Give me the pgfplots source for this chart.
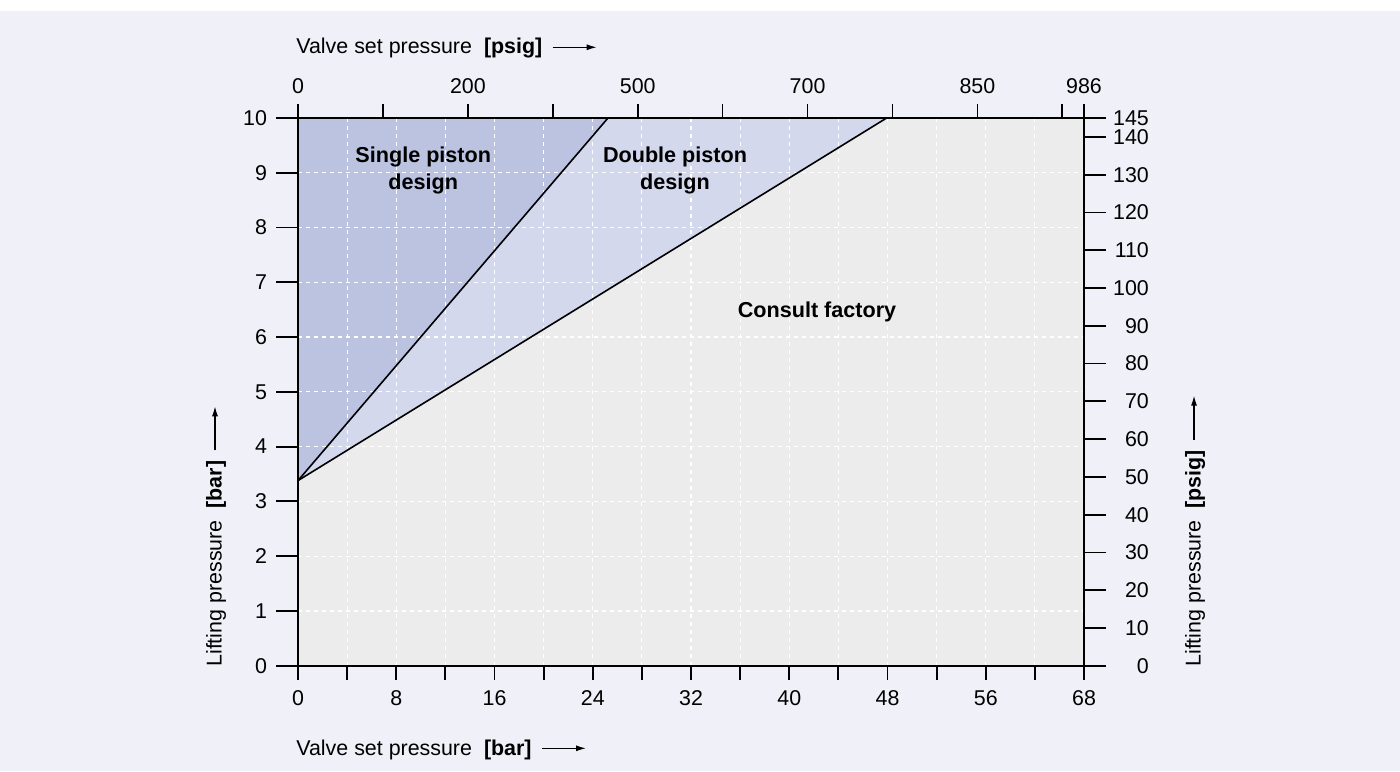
\documentclass[border=0pt]{standalone}
\usepackage{pgfplots}
\pgfplotsset{compat=1.18}
\usepackage{fontspec}
\setmainfont{Liberation Sans}
\usetikzlibrary{arrows.meta}
\definecolor{bg}{RGB}{239,240,248}
\definecolor{plotgray}{RGB}{235,236,235}
\definecolor{single}{RGB}{188,195,224}
\definecolor{double}{RGB}{211,216,236}
\newcommand{\lblfont}{\fontsize{10.7}{12.8}\selectfont}
\begin{document}
\begin{tikzpicture}[x=0.5pt,y=0.5pt]
\useasboundingbox (0,0) rectangle (1400,771);
\fill[white] (0,0) rectangle (1400,771);
\fill[bg] (0,0) rectangle (1400,760);
\pgfplotsset{
  base/.style={
    at={(149pt,52.65pt)}, anchor=south west,
    scale only axis, width=393pt, height=273.85pt,
    xmin=0, xmax=64, ymin=0, ymax=10,
    tick align=outside,
    tick label style={font=\lblfont},
    /pgf/number format/assume math mode=true,
    every tick/.style={black, line width=0.9pt},
    axis line style={black, line width=1pt},
    clip=false,
  }
}
% A: regions and grid
\begin{axis}[base, axis on top,
  xtick={0,8,...,64}, minor xtick={4,12,...,60}, ytick={0,1,...,10},
  xticklabels={}, yticklabels={},
  major tick length=0pt, minor tick length=0pt,
  xmajorgrids, xminorgrids, ymajorgrids,
  major grid style={white, dash pattern=on 2pt off 2pt, line width=0.6pt},
  minor grid style={white, dash pattern=on 2pt off 2pt, line width=0.6pt},
  axis line style={black, line width=1pt}]
\addplot[fill=plotgray, draw=none] coordinates {(0,0) (64,0) (64,10) (47.93,10) (0,3.38)} -- cycle;
\addplot[fill=single, draw=none] coordinates {(0,3.38) (0,10) (25.24,10)} -- cycle;
\addplot[fill=double, draw=none] coordinates {(0,3.38) (25.24,10) (47.93,10)} -- cycle;
\end{axis}
% B: bottom axis, boundary lines, region names
\begin{axis}[base, axis x line*=bottom, axis y line=none,
  xtick={0,8,...,64}, xticklabels={0,8,16,24,32,40,48,56,68},
  minor xtick={4,12,...,60},
  xticklabel style={yshift=-2pt},
  major tick length=7pt, minor tick length=7pt]
\addplot[black, line width=0.8pt] coordinates {(0,3.38) (25.24,10)};
\addplot[black, line width=0.8pt] coordinates {(0,3.38) (47.93,10)};
\node[font=\fontsize{10.8}{13.5}\selectfont\bfseries, align=center] at (axis cs:10.2,9.04) {Single piston\\design};
\node[font=\fontsize{10.8}{13.5}\selectfont\bfseries, align=center] at (axis cs:30.7,9.04) {Double piston\\design};
\node[font=\fontsize{10.8}{13.5}\selectfont\bfseries] at (axis cs:42.26,6.46) {Consult factory};
\end{axis}
% C: top axis
\begin{axis}[base, axis x line*=top, axis y line=none,
  xtick={0,6.91,13.83,20.74,27.66,34.57,41.49,48.40,55.32,62.23,64},
  xticklabels={0,,200,,500,,700,,850,,986},
  xticklabel style={yshift=1.5pt},
  major tick length=7pt]
\end{axis}
% D: left axis
\begin{axis}[base, axis y line*=left, axis x line=none,
  ytick={0,1,...,10}, major tick length=11pt,
  yticklabel style={xshift=-1pt}]
\end{axis}
% E: right axis
\begin{axis}[base, axis y line*=right, axis x line=none,
  ytick={0,0.6895,1.3790,2.0684,2.7579,3.4474,4.1369,4.8263,5.5158,6.2053,6.8948,7.5843,8.2737,8.9632,9.6527,9.9974},
  yticklabels={0,10,20,30,40,50,60,70,80,90,100,110,120,130,140,145},
  yticklabel style={anchor=west, text width=17.9pt, align=right},
  major tick length=11pt]
\end{axis}
% axis titles
\node[anchor=base west, inner sep=0pt, font=\lblfont] (tl) at (296,717) {Valve set pressure\hspace{6pt}\textbf{[psig]}};
\draw[line width=0.6pt, -{Latex[length=5pt,width=3pt]}] ([shift={(5pt,3.35pt)}]tl.base east) -- ++(22pt,0);
\node[anchor=base west, inner sep=0pt, font=\lblfont] (bl) at (296,16) {Valve set pressure\hspace{6pt}\textbf{[bar]}};
\draw[line width=0.6pt, -{Latex[length=5pt,width=3pt]}] ([shift={(5pt,3.35pt)}]bl.base east) -- ++(22pt,0);
\node[rotate=90, anchor=base west, inner sep=0pt, font=\lblfont] (ll) at (221.7,104) {Lifting pressure\hspace{6pt}\textbf{[bar]}};
\draw[line width=0.6pt, -{Latex[length=5pt,width=3pt]}] ([shift={(-3.35pt,5pt)}]ll.base east) -- ++(0,22pt);
\node[rotate=90, anchor=base west, inner sep=0pt, font=\lblfont] (rl) at (1200.7,104) {Lifting pressure\hspace{6pt}\textbf{[psig]}};
\draw[line width=0.6pt, -{Latex[length=5pt,width=3pt]}] ([shift={(-3.35pt,5pt)}]rl.base east) -- ++(0,22pt);
\end{tikzpicture}
\end{document}
